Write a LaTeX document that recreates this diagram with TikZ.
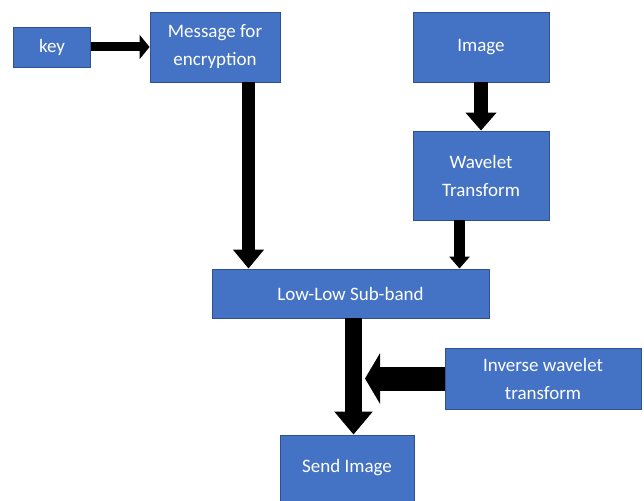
\documentclass[tikz,border=0pt]{standalone}
\usepackage{fontspec}
\setmainfont{Carlito}
\usetikzlibrary{arrows.meta}
\definecolor{boxfill}{HTML}{4472C4}
\definecolor{boxedge}{HTML}{2F528F}
\tikzset{
  blk/.style={draw=boxedge, fill=boxfill, line width=0.9pt, text=white,
    align=center, inner sep=0pt, font=\fontsize{19}{28}\selectfont},
  fat/.style n args={3}{draw=black, line width=#1,
    -{Triangle[length=#2, width=#3]}},
}
\begin{document}
\begin{tikzpicture}[x=1pt, y=-1pt]
\clip (0,0) rectangle (644,500);
\fill[white] (0,0) rectangle (644,500);

% boxes (centre, width x height)
\node[blk, minimum width=77pt,  minimum height=40pt] (key)  at (52,47)    {key};
\node[blk, minimum width=130pt, minimum height=70pt] (msg)  at (215,47)   {Message for\\encryption};
\node[blk, minimum width=136pt, minimum height=70pt] (img)  at (481,47)   {Image};
\node[blk, minimum width=136pt, minimum height=89pt] (wav)  at (481,175.5){Wavelet\\Transform};
\node[blk, minimum width=277pt, minimum height=49pt] (ll)   at (350.5,293.5){Low-Low Sub-band};
\node[blk, minimum width=196pt, minimum height=61pt] (inv)  at (543,378.5){Inverse wavelet\\transform};
\node[blk, minimum width=134pt, minimum height=70pt, text depth=0pt] (send) at (347,470) {};
\node[text=white, font=\fontsize{19}{28}\selectfont] (sendtxt) at (347,468) {Send Image};

% block arrows
\draw[fat={9pt}{10pt}{24pt}] (key.east) -- (msg.west);
\draw[fat={13pt}{19pt}{30pt}] ([xshift=33.5pt]msg.south) -- ([xshift=33.5pt]msg.south |- ll.north);
\draw[fat={14pt}{18pt}{30pt}] (img.south) -- (wav.south |- wav.north);
\draw[fat={11pt}{12pt}{20pt}] ([xshift=-21.5pt]wav.south) -- ([xshift=-21.5pt]wav.south |- ll.north);
\coordinate (drop) at ([xshift=3pt]ll.south);
\draw[fat={17pt}{23pt}{37pt}] (drop) -- (drop |- send.north);
\coordinate (join) at ([xshift=11.5pt]drop |- inv.west);
\draw[fat={24pt}{15pt}{50pt}] (inv.west) -- (join);
\end{tikzpicture}
\end{document}
